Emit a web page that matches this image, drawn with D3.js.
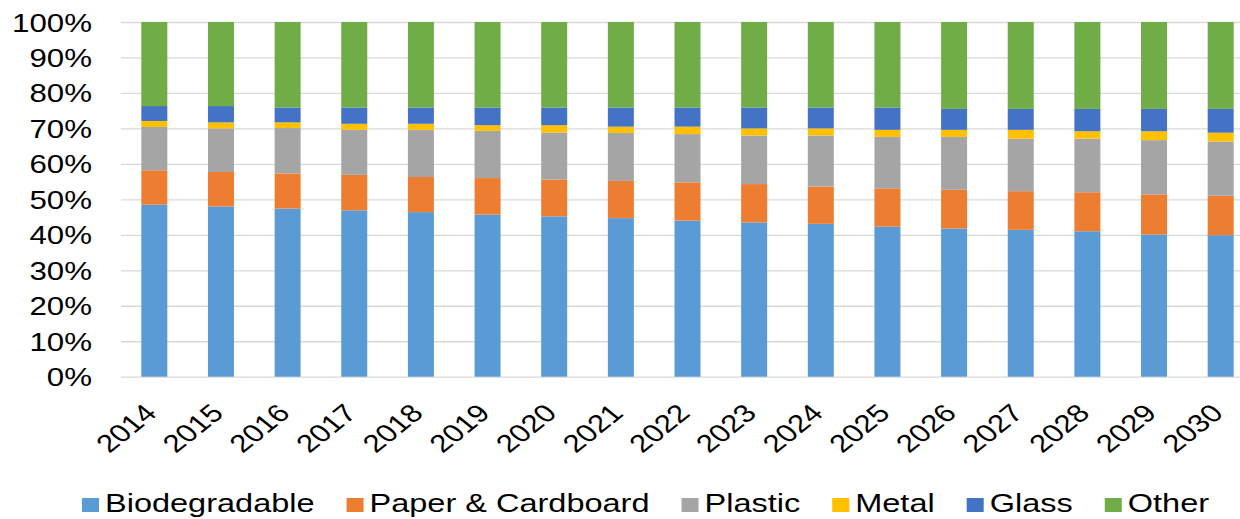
<!DOCTYPE html>
<html>
<head>
<meta charset="utf-8">
<script src="https://cdn.jsdelivr.net/npm/d3@7"></script>
<style>
  html, body { margin: 0; padding: 0; background: #ffffff; }
  svg { display: block; }
  text { font-family: "Liberation Sans", Arial, sans-serif; fill: #000; }
</style>
</head>
<body>
<svg id="chart" width="1240" height="519"></svg>
<script>
const years = ["2014","2015","2016","2017","2018","2019","2020","2021","2022","2023","2024","2025","2026","2027","2028","2029","2030"];
const seriesNames = ["Biodegradable","Paper & Cardboard","Plastic","Metal","Glass","Other"];
const biodegradable = [48.5,48.0,47.4,46.9,46.4,45.7,45.2,44.7,44.0,43.5,43.1,42.3,41.8,41.4,41.0,40.1,39.9];
const paper        = [ 9.7, 9.7, 9.9,10.0, 9.9,10.3,10.4,10.5,10.8,10.8,10.5,10.8,10.9,10.9,11.0,11.3,11.1];
const plastic      = [12.2,12.3,12.8,12.7,13.3,13.3,13.2,13.5,13.6,13.7,14.4,14.5,14.9,14.8,15.1,15.3,15.3];
const metal        = [ 1.7, 1.7, 1.6, 1.7, 1.7, 1.6, 2.1, 1.8, 2.1, 2.0, 2.0, 2.0, 2.0, 2.5, 2.1, 2.5, 2.5];
const glass        = [ 4.2, 4.6, 4.2, 4.6, 4.6, 5.0, 5.0, 5.4, 5.4, 5.9, 5.9, 6.3, 5.9, 5.9, 6.3, 6.3, 6.7];
const other        = [23.7,23.7,24.1,24.1,24.1,24.1,24.1,24.1,24.1,24.1,24.1,24.1,24.5,24.5,24.5,24.5,24.5];
const yTicks = [0,10,20,30,40,50,60,70,80,90,100];
const colors = ["#5B9BD5","#ED7D31","#A5A5A5","#FFC000","#4472C4","#70AD47"];

const seriesValues = [biodegradable, paper, plastic, metal, glass, other];
const table = years.map((y, i) => {
  const row = { year: y };
  seriesNames.forEach((s, k) => row[s] = seriesValues[k][i]);
  return row;
});

const SX = 1.25; // horizontal stretch of text as in the reference
const svg = d3.select("#chart");
svg.append("rect").attr("width", 1240).attr("height", 519).attr("fill", "#fff");

const x = d3.scaleBand().domain(years).range([121, 1254]).paddingInner(0.61).paddingOuter(0.305);
const y = d3.scaleLinear().domain([0, 100]).range([376.7, 22]);

// gridlines + y labels
const yAxis = svg.append("g").attr("transform", "translate(121,0)")
  .call(d3.axisLeft(y).tickValues(yTicks).tickSize(-1133).tickFormat(d => d + "%"));
yAxis.select(".domain").remove();
yAxis.selectAll(".tick line").attr("stroke", "#d9d9d9").attr("stroke-width", 1.3);
yAxis.selectAll(".tick text")
  .attr("x", 0).attr("dy", "0.36em")
  .attr("transform", `translate(-29,0) scale(${SX},1)`)
  .style("font-size", "25px").style("font-family", "'Liberation Sans', Arial, sans-serif")
  .attr("fill", "#000");

// bars
const stack = d3.stack().keys(seriesNames)(table);
svg.append("g").selectAll("g").data(stack).join("g")
  .attr("fill", (d, i) => colors[i])
  .selectAll("rect").data(d => d).join("rect")
  .attr("x", d => x(d.data.year))
  .attr("width", x.bandwidth())
  .attr("y", d => y(d[1]))
  .attr("height", d => y(d[0]) - y(d[1]));

// x axis labels
const xAxis = svg.append("g").attr("transform", "translate(0,376.7)")
  .call(d3.axisBottom(x).tickSize(0));
xAxis.select(".domain").remove();
xAxis.selectAll(".tick text")
  .attr("x", 0).attr("y", 0).attr("dy", 0)
  .attr("text-anchor", "end")
  .attr("transform", `translate(4,38) scale(${SX},1) rotate(-45)`)
  .style("font-size", "25px").style("font-family", "'Liberation Sans', Arial, sans-serif")
  .attr("fill", "#000");

// legend
const legend = svg.append("g");
let lx = 82;
seriesNames.forEach((name, i) => {
  legend.append("rect").attr("x", lx).attr("y", 498).attr("width", 17).attr("height", 14).attr("fill", colors[i]);
  const tx = lx + 23;
  const t = legend.append("text")
    .attr("x", 0).attr("y", 0)
    .attr("transform", `translate(${tx},512) scale(${SX},1)`)
    .style("font-size", "26px")
    .text(name);
  const w = t.node().getComputedTextLength() * SX;
  lx = tx + w + 32;
});
</script>
</body>
</html>
